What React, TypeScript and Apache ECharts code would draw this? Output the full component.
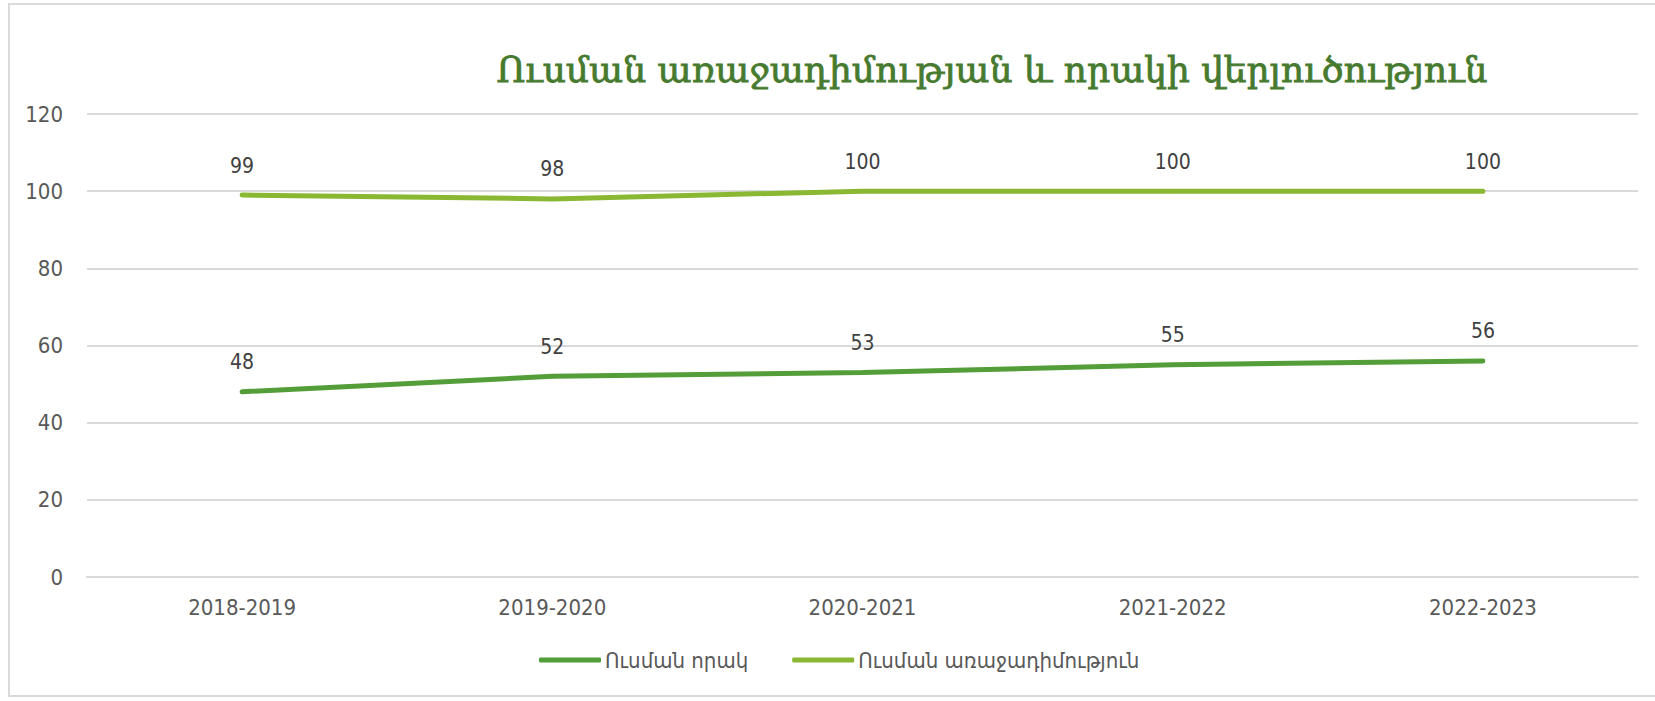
import React, { useEffect, useRef } from "react";
import * as echarts from "echarts";

const title = "Ուսման առաջադիմության և որակի վերլուծություն";
const categories = ["2018-2019", "2019-2020", "2020-2021", "2021-2022", "2022-2023"];
const qualityName = "Ուսման որակ";
const qualityValues = [48, 52, 53, 55, 56];
const progressName = "Ուսման առաջադիմություն";
const progressValues = [99, 98, 100, 100, 100];
const yTicks = { min: 0, max: 120, interval: 20 };

const sans = "'DejaVu Sans Condensed', 'DejaVu Sans', sans-serif";

export default function App() {
  const ref = useRef<HTMLDivElement>(null);
  useEffect(() => {
    if (!ref.current) return;
    const chart = echarts.init(ref.current, null, { renderer: "svg" });
    const label = {
      show: true,
      position: "top" as const,
      distance: 17,
      fontSize: 21,
      color: "#404040",
      fontFamily: sans,
    };
    chart.setOption({
      animation: false,
      backgroundColor: "#ffffff",
      title: {
        text: title,
        left: 987,
        top: 46,
        textAlign: "center",
        textStyle: {
          fontFamily: "'DejaVu Serif', serif",
          fontSize: 36,
          fontWeight: "normal",
          color: "#467A2E",
          textBorderColor: "#467A2E",
          textBorderWidth: 0.8,
        },
      },
      graphic: [
        {
          type: "rect",
          shape: { x: 9, y: 4, width: 1700, height: 692 },
          style: { fill: "none", stroke: "#d9d9d9", lineWidth: 2 },
          silent: true,
        },
      ],
      legend: {
        left: 534,
        top: 644,
        icon: "roundRect",
        itemWidth: 62,
        itemHeight: 5,
        itemGap: 44,
        textStyle: { fontFamily: sans, fontSize: 22, color: "#595959", padding: [0, 0, 0, -1] },
        data: [qualityName, progressName],
      },
      grid: { left: 87, right: 17, top: 114, bottom: 124 },
      xAxis: {
        type: "category",
        data: categories,
        boundaryGap: true,
        axisLine: { lineStyle: { color: "#d9d9d9", width: 2 } },
        axisTick: { show: false },
        axisLabel: { fontFamily: sans, fontSize: 22, color: "#595959", margin: 19 },
      },
      yAxis: {
        type: "value",
        min: yTicks.min,
        max: yTicks.max,
        interval: yTicks.interval,
        axisLine: { show: false },
        axisTick: { show: false },
        splitLine: { lineStyle: { color: "#d9d9d9", width: 2 } },
        axisLabel: { fontFamily: sans, fontSize: 22, color: "#595959", margin: 24 },
      },
      series: [
        {
          name: qualityName,
          type: "line",
          data: qualityValues,
          symbol: "circle",
          symbolSize: 4,
          showSymbol: true,
          itemStyle: { color: "#549E39" },
          color: "#549E39",
          lineStyle: { width: 5, cap: "round", color: "#549E39" },
          label,
        },
        {
          name: progressName,
          type: "line",
          data: progressValues,
          symbol: "circle",
          symbolSize: 4,
          showSymbol: true,
          itemStyle: { color: "#8AB833" },
          color: "#8AB833",
          lineStyle: { width: 5, cap: "round", color: "#8AB833" },
          label,
        },
      ],
    });
    return () => chart.dispose();
  }, []);
  return (
    <div
      ref={ref}
      style={{ position: "fixed", left: 0, top: 0, width: 1655, height: 701 }}
    />
  );
}
